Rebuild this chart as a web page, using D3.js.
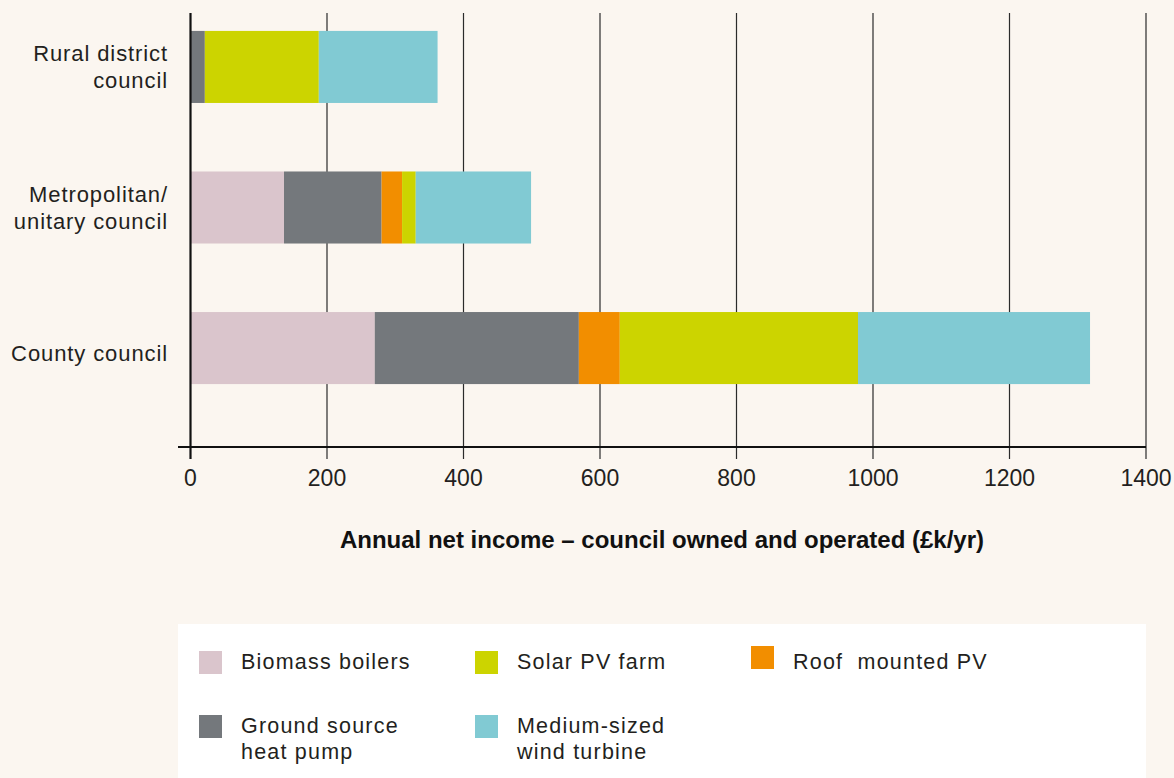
<!DOCTYPE html>
<html>
<head>
<meta charset="utf-8">
<script src="https://cdn.jsdelivr.net/npm/d3@7"></script>
<style>
    html, body { margin: 0; padding: 0; background: #fbf6f0; }
    svg { display: block; font-family: 'Liberation Sans', Arial, sans-serif; }
    .label { font-size: 22px; fill: #231f20; letter-spacing: 0.9px; }
    .tick-label { font-size: 23px; fill: #231f20; }
    .legend-label { font-size: 21.5px; fill: #231f20; letter-spacing: 1.2px; }
</style>
</head>
<body>
<div class="chart"></div>
<script>
const categories = ['Rural district council', 'Metropolitan/ unitary council', 'County council'];
const categoryLines = [['Rural district', 'council'], ['Metropolitan/', 'unitary council'], ['County council']];
const series = ['Biomass boilers', 'Ground source heat pump', 'Roof mounted PV', 'Solar PV farm', 'Medium-sized wind turbine'];

// values in £k/yr, same order as categories
const biomass = [0, 137, 270];
const groundSource = [21, 143, 299];
const roofPV = [0, 30, 60];
const solarFarm = [167, 20, 349];
const windTurbine = [174, 169, 340];

const xTicks = [0, 200, 400, 600, 800, 1000, 1200, 1400];
const axisTitle = 'Annual net income \u2013 council owned and operated (\u00a3k/yr)';

const palette = {
    'Biomass boilers': '#dac5cc',
    'Ground source heat pump': '#74787c',
    'Roof mounted PV': '#f28e00',
    'Solar PV farm': '#ccd400',
    'Medium-sized wind turbine': '#81cad3'
};

// legend layout: [column, row] for each series
const legendPos = {
    'Biomass boilers': [0, 0],
    'Solar PV farm': [1, 0],
    'Roof mounted PV': [2, 0],
    'Ground source heat pump': [0, 1],
    'Medium-sized wind turbine': [1, 1]
};
const legendLines = {
    'Biomass boilers': ['Biomass boilers'],
    'Solar PV farm': ['Solar PV farm'],
    'Roof mounted PV': ['Roof  mounted PV'],
    'Ground source heat pump': ['Ground source', 'heat pump'],
    'Medium-sized wind turbine': ['Medium-sized', 'wind turbine']
};

const width = 1174;
const height = 778;

const rows = categories.map((c, i) => ({
    category: c,
    'Biomass boilers': biomass[i],
    'Ground source heat pump': groundSource[i],
    'Roof mounted PV': roofPV[i],
    'Solar PV farm': solarFarm[i],
    'Medium-sized wind turbine': windTurbine[i]
}));

const stacked = d3.stack().keys(series)(rows);

const svg = d3.select('.chart')
    .append('svg')
    .attr('width', width)
    .attr('height', height);

svg.append('rect')
    .attr('width', width)
    .attr('height', height)
    .attr('fill', '#fbf6f0');

const x = d3.scaleLinear()
    .domain([0, 1400])
    .range([190.5, 1146]);

const y = d3.scaleBand()
    .domain(categories)
    .range([0, 415])
    .paddingInner(0.4875)
    .paddingOuter(0.22);

const axisY = 447;
const plotTop = 13;

// grid lines + ticks
svg.append('g').selectAll('line')
    .data(xTicks.slice(1))
    .enter()
    .append('line')
        .attr('x1', d => x(d))
        .attr('x2', d => x(d))
        .attr('y1', plotTop)
        .attr('y2', axisY + 12)
        .attr('stroke', '#2b2b2b')
        .attr('stroke-width', 1.2);

// bars
svg.append('g').selectAll('g')
    .data(stacked)
    .enter()
    .append('g')
        .attr('fill', d => palette[d.key])
    .selectAll('rect')
    .data(d => d)
    .enter()
    .append('rect')
        .attr('x', d => x(d[0]))
        .attr('y', d => y(d.data.category))
        .attr('width', d => x(d[1]) - x(d[0]))
        .attr('height', y.bandwidth());

// y axis line
svg.append('line')
    .attr('x1', x(0))
    .attr('x2', x(0))
    .attr('y1', plotTop)
    .attr('y2', axisY + 12)
    .attr('stroke', '#111')
    .attr('stroke-width', 2.2);

// x axis line
svg.append('line')
    .attr('x1', 178)
    .attr('x2', x(1400))
    .attr('y1', axisY)
    .attr('y2', axisY)
    .attr('stroke', '#111')
    .attr('stroke-width', 2);

svg.append('g').selectAll('text')
    .data(xTicks)
    .enter()
    .append('text')
        .classed('tick-label', true)
        .attr('x', d => x(d))
        .attr('y', 486)
        .attr('text-anchor', 'middle')
        .text(d => d);

svg.append('text')
    .attr('x', 662)
    .attr('y', 548)
    .attr('text-anchor', 'middle')
    .style('font-size', '24px')
    .style('font-weight', 700)
    .style('fill', '#111')
    .text(axisTitle);

// category labels
categories.forEach((c, i) => {
    const lines = categoryLines[i];
    const center = y(c) + y.bandwidth() / 2;
    const first = center + 13 - (lines.length - 1) * 19;
    svg.append('text')
        .classed('label', true)
        .attr('text-anchor', 'end')
        .selectAll('tspan')
        .data(lines)
        .enter()
        .append('tspan')
            .attr('x', 168)
            .attr('y', (d, j) => first + j * 27.5)
            .text(d => d);
});

// legend
svg.append('rect')
    .attr('x', 178)
    .attr('y', 624)
    .attr('width', 968)
    .attr('height', 160)
    .attr('fill', '#ffffff');

const legendItems = svg.append('g').selectAll('g')
    .data(series)
    .enter()
    .append('g')
        .attr('transform', d => 'translate(' + (199 + legendPos[d][0] * 276) + ',' + (651 + legendPos[d][1] * 64) + ')');

legendItems.append('rect')
    .attr('y', d => d == 'Roof mounted PV' ? -5 : 0)
    .attr('width', 23)
    .attr('height', 23)
    .attr('fill', d => palette[d]);

legendItems.append('text')
    .classed('legend-label', true)
    .style('white-space', 'pre')
    .selectAll('tspan')
    .data(d => legendLines[d])
    .enter()
    .append('tspan')
        .attr('x', 42)
        .attr('y', (d, j) => 18 + j * 26)
        .text(d => d);
</script>
</body>
</html>
